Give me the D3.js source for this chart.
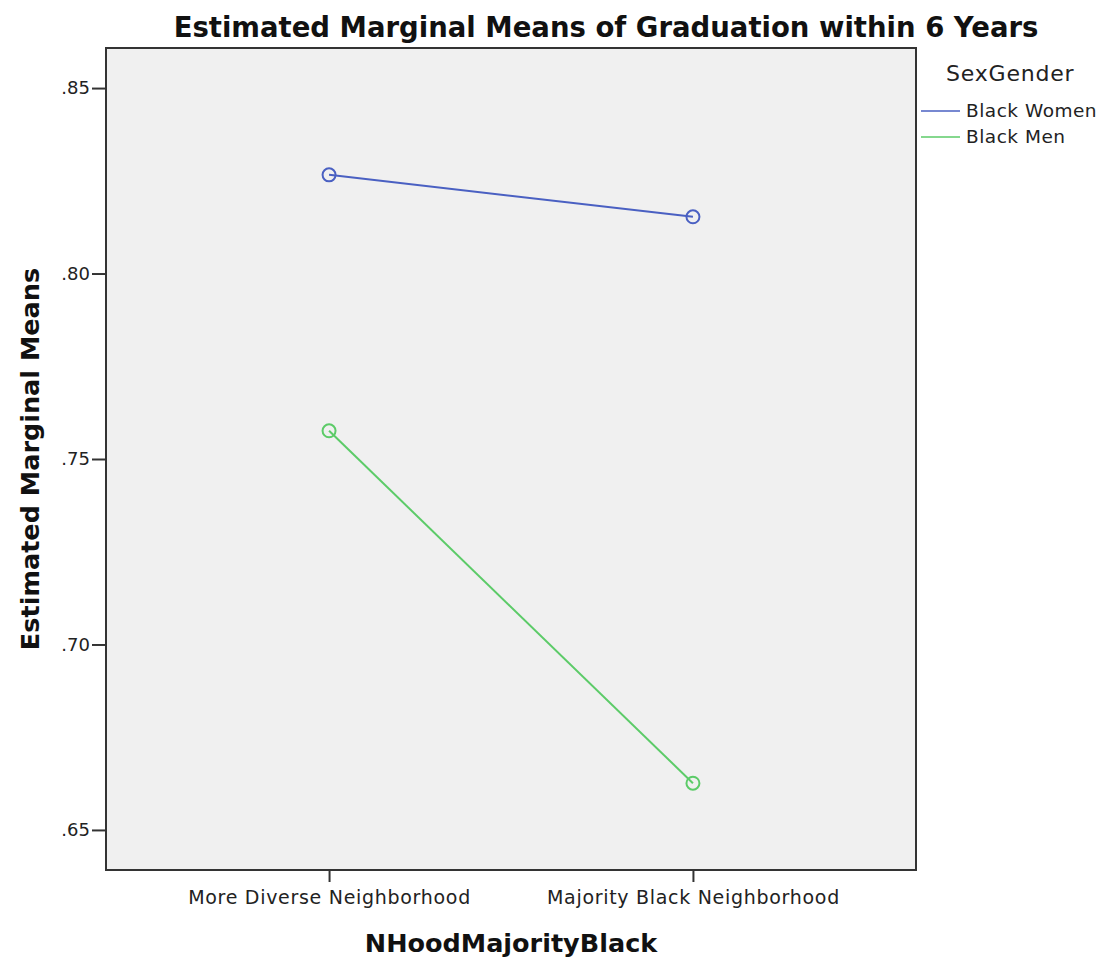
<!DOCTYPE html>
<html>
<head>
<meta charset="utf-8">
<script src="https://cdn.jsdelivr.net/npm/d3@7"></script>
<style>
  body { margin: 0; background: #fff; }
  text { font-family: "DejaVu Sans", Verdana, sans-serif; }
</style>
</head>
<body>
<div id="chart"></div>
<script>
var width = 1102;
var height = 961;

// data
var categories = ["More Diverse Neighborhood", "Majority Black Neighborhood"];
var seriesNames = ["Black Women", "Black Men"];
var womenValues = [0.8266, 0.8153];
var menValues = [0.7576, 0.6626];
var yTicks = [0.65, 0.70, 0.75, 0.80, 0.85];
var colors = ["#4a60c2", "#5ccb68"];

var series = [
    { name: seriesNames[0], values: womenValues, color: colors[0] },
    { name: seriesNames[1], values: menValues, color: colors[1] }
];

var plot = { left: 106, top: 48, right: 916, bottom: 870 };

var svg = d3.select("#chart")
    .append("svg")
      .attr("width", width)
      .attr("height", height);

var x = d3.scalePoint()
    .domain(categories)
    .range([plot.left, plot.right])
    .padding(0.613);

var y = d3.scaleLinear()
    .domain([0.6392, 0.8608])
    .range([plot.bottom, plot.top]);

svg.append("rect")
    .attr("x", plot.left)
    .attr("y", plot.top)
    .attr("width", plot.right - plot.left)
    .attr("height", plot.bottom - plot.top)
    .attr("fill", "#f0f0f0")
    .attr("stroke", "#333")
    .attr("stroke-width", 2);

var fmt = function(d) { return d3.format(".2f")(d).replace(/^0/, ""); };

var yAxis = svg.append("g")
    .attr("transform", "translate(" + (plot.left - 1) + ",0)")
    .call(d3.axisLeft(y).tickValues(yTicks).tickFormat(fmt).tickSize(13).tickSizeOuter(0).tickPadding(2));
yAxis.select(".domain").remove();
yAxis.selectAll("line").attr("stroke", "#333").attr("stroke-width", 2);
yAxis.selectAll("text")
    .attr("fill", "#222")
    .style("font-size", "18px")
    .style("font-family", "DejaVu Sans, sans-serif");

var xAxis = svg.append("g")
    .attr("transform", "translate(0," + (plot.bottom + 1) + ")")
    .call(d3.axisBottom(x).tickSize(11).tickSizeOuter(0).tickPadding(9));
xAxis.select(".domain").remove();
xAxis.selectAll("line").attr("stroke", "#333").attr("stroke-width", 2);
xAxis.selectAll("text")
    .attr("fill", "#222")
    .style("font-size", "19px")
    .style("letter-spacing", "0.7px")
    .style("font-family", "DejaVu Sans, sans-serif");

var line = d3.line()
    .x(function(d, i) { return x(categories[i]); })
    .y(function(d) { return y(d); });

series.forEach(function(s) {
    svg.append("path")
        .datum(s.values)
        .attr("d", line)
        .attr("fill", "none")
        .attr("stroke", s.color)
        .attr("stroke-width", 2);

    svg.selectAll(null)
        .data(s.values)
        .enter().append("circle")
        .attr("cx", function(d, i) { return x(categories[i]); })
        .attr("cy", function(d) { return y(d); })
        .attr("r", 6.5)
        .attr("fill", "none")
        .attr("stroke", s.color)
        .attr("stroke-width", 2);
});

// title and axis labels
svg.append("text")
    .attr("x", 606)
    .attr("y", 37)
    .attr("text-anchor", "middle")
    .attr("font-weight", "bold")
    .style("font-size", "27.5px")
    .attr("fill", "#111")
    .text("Estimated Marginal Means of Graduation within 6 Years");

svg.append("text")
    .attr("transform", "translate(39," + 459 + ") rotate(-90)")
    .attr("text-anchor", "middle")
    .attr("font-weight", "bold")
    .style("font-size", "25.5px")
    .attr("fill", "#111")
    .text("Estimated Marginal Means");

svg.append("text")
    .attr("x", 511)
    .attr("y", 952)
    .attr("text-anchor", "middle")
    .attr("font-weight", "bold")
    .style("font-size", "25.5px")
    .attr("fill", "#111")
    .text("NHoodMajorityBlack");

// legend
svg.append("text")
    .attr("x", 946)
    .attr("y", 81)
    .style("font-size", "22px")
    .style("letter-spacing", "0.8px")
    .attr("fill", "#222")
    .text("SexGender");

var legend = svg.selectAll("g.legend")
    .data(series)
    .enter().append("g")
    .attr("class", "legend")
    .attr("transform", function(d, i) { return "translate(921," + (111 + i * 26) + ")"; });

legend.append("line")
    .attr("x1", 0).attr("x2", 39)
    .attr("y1", 0).attr("y2", 0)
    .attr("stroke", function(d) { return d.color; })
    .attr("stroke-width", 1.5);

legend.append("text")
    .attr("x", 45)
    .attr("y", 6)
    .style("font-size", "18.5px")
    .style("letter-spacing", "0.5px")
    .attr("fill", "#222")
    .text(function(d) { return d.name; });
</script>
</body>
</html>
